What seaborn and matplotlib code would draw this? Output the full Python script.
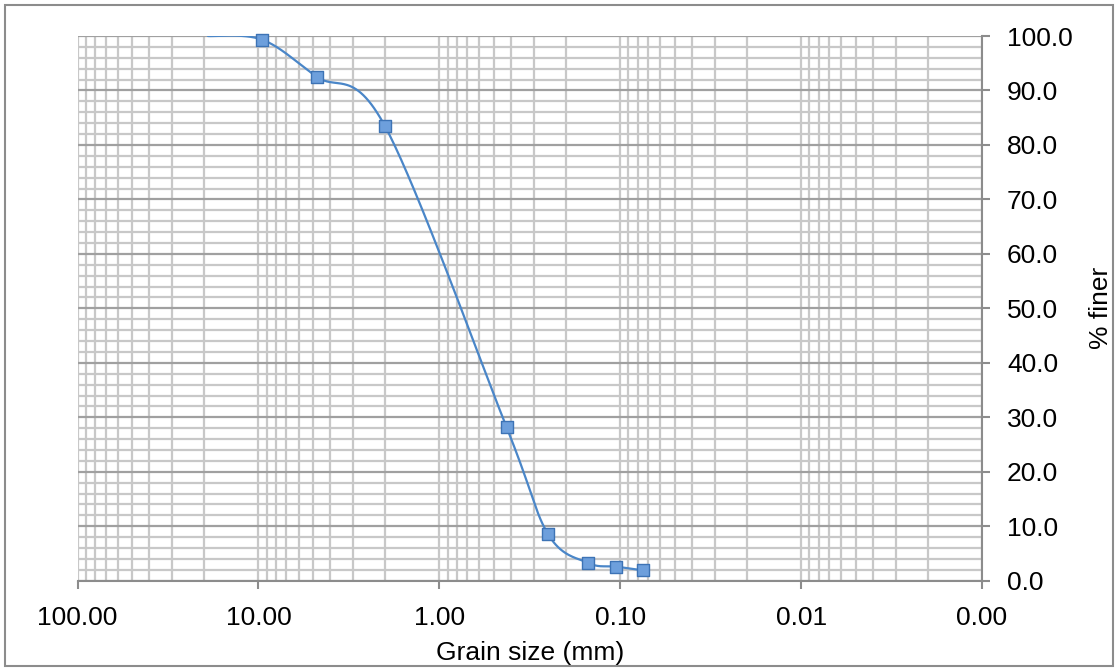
import numpy as np
import matplotlib
matplotlib.use("Agg")
import matplotlib.pyplot as plt
from matplotlib.patches import Rectangle
from matplotlib.ticker import FixedLocator, FuncFormatter, MultipleLocator
import seaborn as sns

# ---- data (sieve analysis) ----
grain_size_mm = [19.0, 9.5, 4.75, 2.0, 0.425, 0.25, 0.15, 0.106, 0.075]
percent_finer = [100.0, 99.3, 92.5, 83.5, 28.2, 8.5, 3.25, 2.6, 1.9]
x_tick_values = [100, 10, 1, 0.1, 0.01, 0.001]
x_tick_labels = ["100.00", "10.00", "1.00", "0.10", "0.01", "0.00"]
y_tick_values = [0, 10, 20, 30, 40, 50, 60, 70, 80, 90, 100]
y_tick_labels = ["%.1f" % v for v in y_tick_values]

sns.set_theme(style="white")
plt.rcParams['font.family'] = ['Liberation Sans', 'DejaVu Sans']

W, H = 1118, 671
fig = plt.figure(figsize=(W / 100, H / 100), dpi=100)
ax = fig.add_axes([77.5 / W, 1 - 580.7 / H, (982 - 77.5) / W, (580.7 - 36) / H])

# Excel-style smoothed line (cubic Bezier through points, in log-x space)
u = np.log10(np.array(grain_size_mm))
v = np.array(percent_finer)
P = np.column_stack([u, v])
n = len(P)
curve = []
t = np.linspace(0, 1, 60)[:, None]
for i in range(n - 1):
    p0 = P[i]
    p3 = P[i + 1]
    pm = P[i - 1] if i > 0 else P[i]
    pp = P[i + 2] if i + 2 < n else P[i + 1]
    c1 = p0 + (p3 - pm) / 6.0
    c2 = p3 - (pp - p0) / 6.0
    seg = (1 - t) ** 3 * p0 + 3 * (1 - t) ** 2 * t * c1 + 3 * (1 - t) * t ** 2 * c2 + t ** 3 * p3
    curve.append(seg)
curve = np.vstack(curve)

line_color = "#4a86c8"
sns.lineplot(x=10 ** curve[:, 0], y=curve[:, 1], sort=False, estimator=None,
             color=line_color, linewidth=1.6, ax=ax, zorder=3)
sns.scatterplot(x=grain_size_mm[1:], y=percent_finer[1:], marker="s", s=75,
                color="#6d9fdc", edgecolor="#3d73b5", linewidth=1.0, ax=ax, zorder=4,
                clip_on=False)

ax.set_xscale("log")
ax.set_xlim(100, 0.001)
ax.set_ylim(0, 100)

ax.xaxis.set_major_locator(FixedLocator(x_tick_values))
ax.xaxis.set_major_formatter(FuncFormatter(lambda val, pos: x_tick_labels[x_tick_values.index(val)] if val in x_tick_values else ""))
minor_x = [m * 10.0 ** e for e in range(-3, 2) for m in range(2, 10)]
ax.xaxis.set_minor_locator(FixedLocator(minor_x))
ax.xaxis.set_minor_formatter(FuncFormatter(lambda val, pos: ""))

ax.yaxis.set_major_locator(FixedLocator(y_tick_values))
ax.set_yticklabels(y_tick_labels)
ax.yaxis.set_minor_locator(MultipleLocator(2))
ax.yaxis.tick_right()
ax.yaxis.set_label_position("right")

grid_light = "#c8c8c8"
grid_dark = "#a0a0a0"
ax.grid(which="minor", axis="both", color=grid_light, linewidth=1.6, zorder=0)
ax.grid(which="major", axis="x", color=grid_light, linewidth=1.6, zorder=0)
ax.grid(which="major", axis="y", color=grid_dark, linewidth=1.6, zorder=0)
ax.set_axisbelow(True)

axis_color = "#8c8c8c"
for side in ["top", "left"]:
    ax.spines[side].set_visible(False)
for side in ["bottom", "right"]:
    ax.spines[side].set_color(axis_color)
    ax.spines[side].set_linewidth(1.5)

fs = 19
ax.tick_params(axis="x", which="major", direction="out", length=6, width=1.5, color=axis_color,
               labelsize=fs, pad=12, labelcolor="black", bottom=True)
ax.tick_params(axis="y", which="major", direction="out", length=6, width=1.5, color=axis_color,
               labelsize=fs, pad=12, labelcolor="black", right=True, left=False)
ax.tick_params(which="minor", length=0)

ax.set_xlabel("Grain size (mm)", fontsize=fs, color="black", labelpad=8)
ax.set_ylabel("% finer", fontsize=fs, color="black", labelpad=12)

# outer chart border
fig.patches.append(Rectangle((5 / W, 5 / H), (1113 - 5) / W, (666 - 5) / H,
                             transform=fig.transFigure, fill=False,
                             edgecolor=axis_color, linewidth=1.5))

fig.savefig("out.png", dpi=100)
